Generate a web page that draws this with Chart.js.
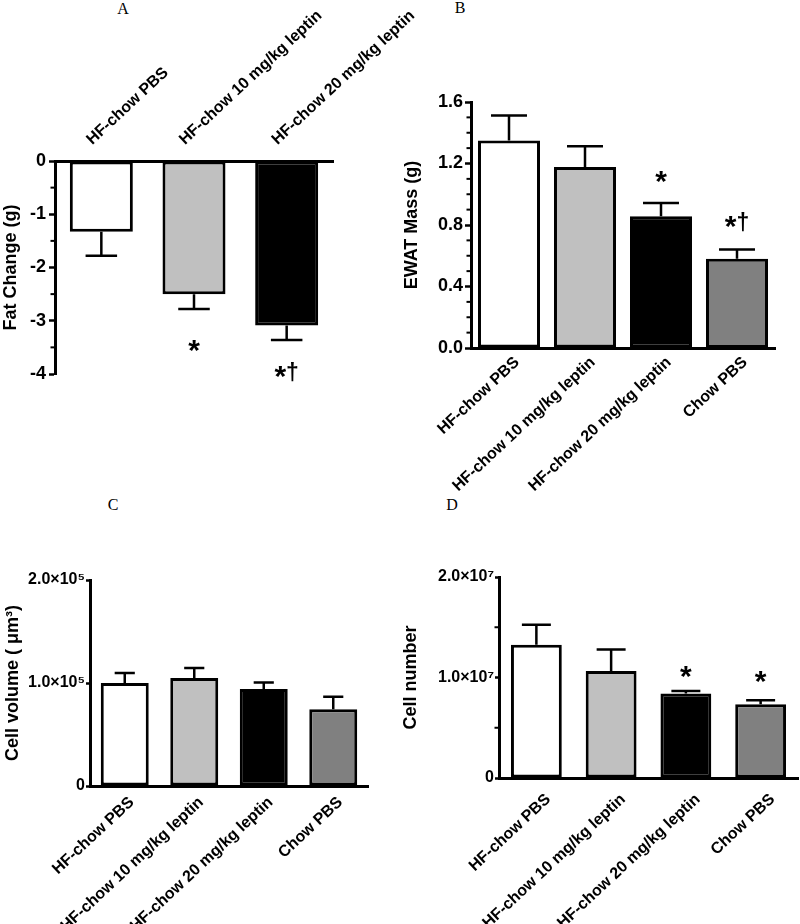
<!DOCTYPE html>
<html>
<head>
<meta charset="utf-8">
<script src="https://cdn.jsdelivr.net/npm/chart.js@4.4.1/dist/chart.umd.min.js"></script>
<style>
  body { margin:0; background:#fff; width:800px; height:924px; position:relative; overflow:hidden; }
  canvas { position:absolute; }
  .letter { position:absolute; font-family:"Liberation Serif","Times New Roman",serif; font-size:16px; color:#000; transform:translate(-50%,-50%); }
</style>
</head>
<body>
<div class="letter" style="left:123px;top:9px">A</div>
<div class="letter" style="left:460px;top:8px">B</div>
<div class="letter" style="left:113px;top:505px">C</div>
<div class="letter" style="left:452px;top:505px">D</div>

<canvas id="chartA" width="460" height="470" style="left:0;top:0"></canvas>
<canvas id="chartB" width="400" height="540" style="left:400px;top:0"></canvas>
<canvas id="chartC" width="400" height="454" style="left:0;top:470px"></canvas>
<canvas id="chartD" width="400" height="454" style="left:400px;top:470px"></canvas>

<script>
// --- Shared Data ---
const FONT = '"Liberation Sans", Arial, sans-serif';
const groups3 = ['HF-chow PBS', 'HF-chow 10 mg/kg leptin', 'HF-chow 20 mg/kg leptin'];
const groups4 = ['HF-chow PBS', 'HF-chow 10 mg/kg leptin', 'HF-chow 20 mg/kg leptin', 'Chow PBS'];
const barColors = ['#ffffff', '#c0c0c0', '#000000', '#808080'];

// A: fat change
const fatChange = [-1.33, -2.50, -3.09];
const fatChangeSem = [0.45, 0.28, 0.27];
const fatTicks = [-4, -3, -2, -1, 0];
const fatTickLabels = ['-4', '-3', '-2', '-1', '0'];
const fatMinor = [-3.5, -2.5, -1.5, -0.5];
const fatMarks = ['', '*', '*†'];
const fatMarkAt = [null, -3.53, -4.01];

// B: EWAT mass
const ewatMass = [1.35, 1.177, 0.857, 0.58];
const ewatSem = [0.163, 0.135, 0.086, 0.06];
const ewatTicks = [0, 0.4, 0.8, 1.2, 1.6];
const ewatTickLabels = ['0.0', '0.4', '0.8', '1.2', '1.6'];
const ewatMinor = [0.1, 0.2, 0.3, 0.5, 0.6, 0.7, 0.9, 1.0, 1.1, 1.3, 1.4, 1.5];
const ewatMarks = ['', '', '*', '*†'];
const ewatMarkAt = [null, null, 1.097, 0.804];

// C: cell volume
const cellVolume = [100000, 104800, 94200, 74500];
const cellVolumeSem = [9700, 9800, 6400, 12200];
const volTicks = [0, 100000, 200000];
const volTickLabels = ['0', '1.0×10⁵', '2.0×10⁵'];
const volMinor = [];
const volMarks = ['', '', '', ''];
const volMarkAt = [null, null, null, null];

// D: cell number
const cellNumber = [13270000, 10650000, 8400000, 7330000];
const cellNumberSem = [1990000, 2130000, 260000, 400000];
const numTicks = [0, 10000000, 20000000];
const numTickLabels = ['0', '1.0×10⁷', '2.0×10⁷'];
const numMinor = [5000000, 15000000];
const numMarks = ['', '', '*', '*'];
const numMarkAt = [null, null, 10250000, 9820000];

// --- FUNCTIONS ---
function drawMark(c, text, x, y){
  // asterisk a bit larger than the dagger, dagger lifted to sit level with it
  const parts = text.split('').map(ch => ({ ch, font: ch === '*' ? 'bold 30px ' + FONT : 'bold 23px ' + FONT, dy: ch === '*' ? 0 : -4 }));
  let total = 0;
  parts.forEach(pt => { c.font = pt.font; pt.w = c.measureText(pt.ch).width; total += pt.w; });
  let cx = x - total / 2;
  parts.forEach(pt => { c.font = pt.font; c.fillText(pt.ch, cx, y + pt.dy); cx += pt.w; });
}

function panelMarks(p){
  return {
    id: 'panelMarks',
    afterDatasetsDraw(chart){
      const c = chart.ctx, y = chart.scales.y;
      const bars = chart.getDatasetMeta(0).data;
      c.save();
      c.strokeStyle = '#000';
      c.lineWidth = 2.5;
      bars.forEach((b, i) => {
        const v = p.values[i];
        const ye = y.getPixelForValue(v + Math.sign(v) * p.sem[i]);
        const half = b.width * p.cap / 2;
        c.beginPath();
        c.moveTo(b.x, b.y); c.lineTo(b.x, ye);
        c.moveTo(b.x - half, ye); c.lineTo(b.x + half, ye);
        c.stroke();
      });
      // minor ticks
      const L = chart.chartArea.left;
      c.lineWidth = 2;
      p.minor.forEach(v => {
        const yy = y.getPixelForValue(v);
        c.beginPath(); c.moveTo(L - 4.5, yy); c.lineTo(L, yy); c.stroke();
      });
      // significance marks
      c.fillStyle = '#000';
      c.textAlign = 'left';
      c.textBaseline = 'middle';
      p.marks.forEach((m, i) => { if(m) drawMark(c, m, bars[i].x, y.getPixelForValue(p.markAt[i]) + 3); });
      c.restore();
    }
  };
}

function makeChart(p){
  const el = document.getElementById(p.id);
  const W = el.width, H = el.height;
  return new Chart(el, {
    type: 'bar',
    data: {
      labels: p.labels,
      datasets: [{
        data: p.values,
        backgroundColor: barColors.slice(0, p.values.length),
        borderColor: '#000', borderWidth: 3, borderSkipped: false,
        categoryPercentage: 1, barPercentage: p.barPct
      }]
    },
    options: {
      responsive: false, animation: false, devicePixelRatio: 1,
      layout: { autoPadding: false, padding: {
        left: 0, right: W - p.area.right,
        top: p.top ? 0 : p.area.top,
        bottom: p.top ? H - p.area.bottom : 0 } },
      plugins: { legend: { display: false }, tooltip: { enabled: false } },
      scales: {
        x: {
          position: p.top ? 'top' : 'bottom',
          grid: { display: false, drawTicks: false },
          border: { display: true, color: '#000', width: 3 },
          ticks: { color: '#000', font: { family: FONT, size: 16, weight: 'bold' },
                   minRotation: 43, maxRotation: 43, autoSkip: false,
                   padding: p.labelPad, labelOffset: p.labelShift },
          afterFit(s){ s.height = p.top ? p.area.top : H - p.area.bottom; s.paddingLeft = 0; s.paddingRight = 0; }
        },
        y: {
          min: p.ticks[0], max: p.ticks[p.ticks.length - 1],
          grid: { display: true, drawOnChartArea: false, drawTicks: true, tickLength: p.tickLen, tickWidth: 2.5, tickColor: '#000' },
          border: { display: true, color: '#000', width: 3 },
          afterBuildTicks(s){ s.ticks = p.ticks.map(v => ({ value: v })); },
          ticks: { color: '#000', font: { family: FONT, size: p.tickSize, weight: 'bold' }, padding: p.tickPad,
                   callback: (v, i) => p.tickLabels[i] },
          title: { display: true, text: p.title, color: '#000', padding: { top: p.titlePad, bottom: 0 },
                   font: { family: FONT, size: 18, weight: 'bold' } },
          afterFit(s){ s.width = p.area.left; s.paddingTop = 0; s.paddingBottom = 0; }
        }
      }
    },
    plugins: [panelMarks(p)]
  });
}

// --- Panels ---
makeChart({ id: 'chartA', top: true, labels: groups3, values: fatChange, sem: fatChangeSem,
  ticks: fatTicks, tickLabels: fatTickLabels, minor: fatMinor, marks: fatMarks, markAt: fatMarkAt,
  title: 'Fat Change (g)', area: { left: 55, top: 161, right: 333, bottom: 374 },
  barPct: 0.68, cap: 0.5, labelPad: 12, labelShift: 1, tickLen: 6, tickPad: 3, tickSize: 18, titlePad: 0 });

makeChart({ id: 'chartB', top: false, labels: groups4, values: ewatMass, sem: ewatSem,
  ticks: ewatTicks, tickLabels: ewatTickLabels, minor: ewatMinor, marks: ewatMarks, markAt: ewatMarkAt,
  title: 'EWAT Mass (g)', area: { left: 71, top: 102, right: 375, bottom: 348 },
  barPct: 0.816, cap: 0.58, labelPad: 5, labelShift: 8, tickLen: 6, tickPad: 2, tickSize: 18, titlePad: 1 });

makeChart({ id: 'chartC', top: false, labels: groups4, values: cellVolume, sem: cellVolumeSem,
  ticks: volTicks, tickLabels: volTickLabels, minor: volMinor, marks: volMarks, markAt: volMarkAt,
  title: 'Cell volume ( μm³)', area: { left: 90, top: 110, right: 368, bottom: 316 },
  barPct: 0.69, cap: 0.42, labelPad: 7, labelShift: 7, tickLen: 4, tickPad: 1, tickSize: 16, titlePad: 2 });

makeChart({ id: 'chartD', top: false, labels: groups4, values: cellNumber, sem: cellNumberSem,
  ticks: numTicks, tickLabels: numTickLabels, minor: numMinor, marks: numMarks, markAt: numMarkAt,
  title: 'Cell number', area: { left: 99, top: 107, right: 398, bottom: 308 },
  barPct: 0.68, cap: 0.57, labelPad: 12, labelShift: 12, tickLen: 4, tickPad: 1, tickSize: 16, titlePad: 0 });
</script>
</body>
</html>
